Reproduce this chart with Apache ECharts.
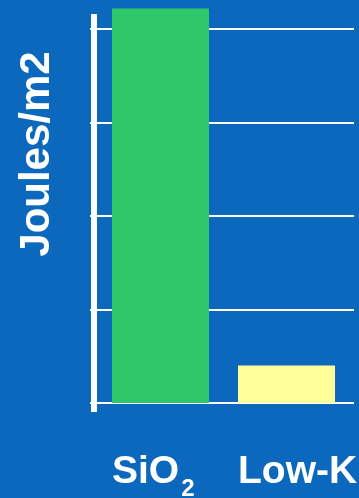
<!DOCTYPE html>
<html>
<head>
<meta charset="utf-8">
<script src="https://cdn.jsdelivr.net/npm/echarts@6/dist/echarts.min.js"></script>
<style>
  html, body { margin: 0; padding: 0; background: #0b68bc; }
  #chart { width: 359px; height: 498px; }
</style>
</head>
<body>
<div id="chart"></div>
<script>
// data
var categories = ['SiO₂', 'Low-K'];
var energy = [4.22, 0.4];
var barColors = ['#2ec86a', '#ffff99'];
var yMin = 0, yMax = 4, yStep = 1;

var FONT = '"Liberation Sans", Arial, sans-serif';

var chart = echarts.init(document.getElementById('chart'));

var option = {
  backgroundColor: '#0b68bc',
  animation: false,
  grid: [
    { left: 97.5, right: 9.5, top: 29, bottom: 95, outerBoundsMode: 'none' }, // bars
    { left: 94, right: 5, top: 29, bottom: 95, outerBoundsMode: 'none' },     // grid lines
    { left: 94, right: 5, top: 14, bottom: 86, outerBoundsMode: 'none' },     // long axis line
    { left: 49, right: 58, top: 29, bottom: 95, outerBoundsMode: 'none' }     // category labels (left aligned under bars)
  ],
  xAxis: [
    { gridIndex: 0, type: 'category', data: categories, show: false },
    { gridIndex: 1, type: 'value', show: false },
    { gridIndex: 2, type: 'value', show: false },
    {
      gridIndex: 3, type: 'category', data: categories,
      axisLine: { show: false }, axisTick: { show: false }, splitLine: { show: false },
      axisLabel: {
        interval: 0,
        hideOverlap: false,
        align: 'left',
        margin: 40,
        color: '#fff',
        fontFamily: FONT,
        fontWeight: 'bold',
        fontSize: 39,
        formatter: function (v) {
          // subscript 2 as its own lowered fragment; keep same line box for every label
          if (v.indexOf('₂') >= 0) return '{m|' + v.replace('₂', '') + '}{s|2}';
          return '{m|' + v + '}{s| }';
        },
        rich: {
          m: { color: '#fff', fontFamily: FONT, fontWeight: 'bold', fontSize: 39 },
          s: { color: '#fff', fontFamily: FONT, fontWeight: 'bold', fontSize: 24, padding: [34, 0, 0, 2] }
        }
      }
    }
  ],
  yAxis: [
    { gridIndex: 0, type: 'value', min: yMin, max: yMax, show: false },
    {
      gridIndex: 1, type: 'value', min: yMin, max: yMax, interval: yStep,
      axisLine: { show: false },
      axisTick: { show: true, length: 4, lineStyle: { color: '#fff', width: 2 } },
      axisLabel: { show: false },
      splitLine: { show: true, lineStyle: { color: '#fff', width: 2 } }
    },
    {
      gridIndex: 2, type: 'value', min: 0, max: 1,
      axisLine: { show: true, lineStyle: { color: '#fff', width: 6, cap: 'butt' } },
      axisTick: { show: false }, axisLabel: { show: false }, splitLine: { show: false }
    },
    { gridIndex: 3, type: 'value', show: false }
  ],
  graphic: [{
    type: 'text',
    x: 37, y: 154,
    rotation: Math.PI / 2,
    style: {
      text: 'Joules/m2',
      fill: '#fff',
      font: 'bold 42px ' + FONT,
      align: 'center',
      verticalAlign: 'middle'
    }
  }],
  series: [{
    type: 'bar',
    xAxisIndex: 0,
    yAxisIndex: 0,
    barWidth: 97,
    clip: false,
    z: 3,
    data: energy.map(function (v, i) {
      return { value: v, itemStyle: { color: barColors[i] } };
    })
  }]
};

chart.setOption(option);
</script>
</body>
</html>
